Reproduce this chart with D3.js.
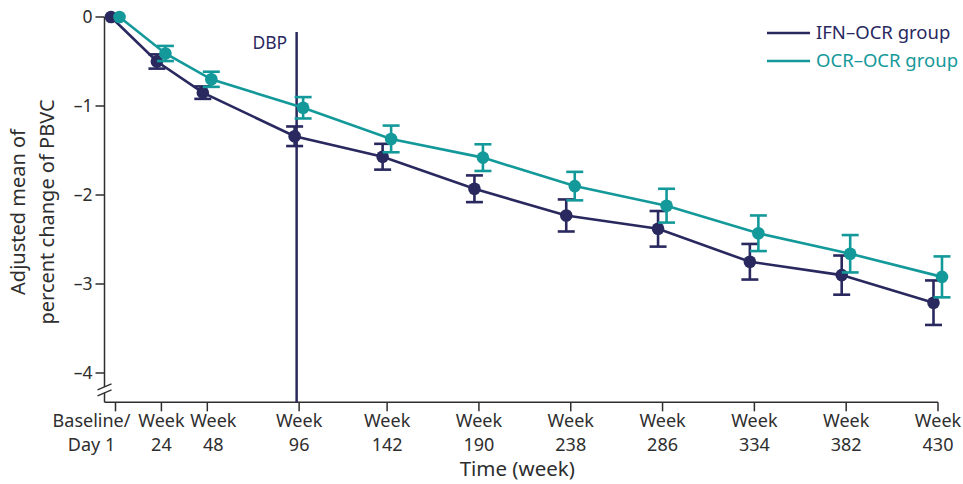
<!DOCTYPE html>
<html>
<head>
<meta charset="utf-8">
<script src="https://cdn.jsdelivr.net/npm/d3@7"></script>
<style>
  body { margin: 0; background: #fff; }
  svg { display: block; font-family: "Noto Sans", "Open Sans", sans-serif; }
</style>
</head>
<body>
<div id="app"></div>
<script>
// data
var weeks = [0, 24, 48, 96, 142, 190, 238, 286, 334, 382, 430];
var tickTop = ['Baseline/', 'Week', 'Week', 'Week', 'Week', 'Week', 'Week', 'Week', 'Week', 'Week', 'Week'];
var tickBottom = ['Day 1', '24', '48', '96', '142', '190', '238', '286', '334', '382', '430'];
var yTicks = [0, -1, -2, -3, -4];

var ifnMean = [0, -0.50, -0.85, -1.34, -1.57, -1.93, -2.23, -2.38, -2.75, -2.90, -3.21];
var ifnErr  = [0, 0.08, 0.07, 0.11, 0.145, 0.15, 0.18, 0.20, 0.20, 0.22, 0.25];
var ocrMean = [0, -0.41, -0.70, -1.02, -1.37, -1.58, -1.90, -2.12, -2.43, -2.66, -2.92];
var ocrErr  = [0, 0.085, 0.085, 0.12, 0.15, 0.15, 0.16, 0.19, 0.20, 0.21, 0.23];
var dbpWeek = 96;

var navy = '#29285f', teal = '#14999a', ink = '#2e2e2e';

var width = 963, height = 484;
var svg = d3.select('#app').append('svg').attr('width', width).attr('height', height);

var x = d3.scaleLinear().domain([0, 430]).range([115.5, 938]);
var y = d3.scaleLinear().domain([0, -4]).range([17, 373]);
var yBottom = -4.33;
var axisX = 104.5;

// y axis
var gy = svg.append('g');
gy.append('line').attr('x1', axisX).attr('x2', axisX).attr('y1', y(0)).attr('y2', y(yBottom))
  .attr('stroke', ink).attr('stroke-width', 1.5);
gy.selectAll('.yt').data(yTicks).enter().append('line')
  .attr('x1', axisX - 9).attr('x2', axisX).attr('y1', function(d) { return y(d); }).attr('y2', function(d) { return y(d); })
  .attr('stroke', ink).attr('stroke-width', 1.5);
gy.selectAll('.yl').data(yTicks).enter().append('text')
  .attr('x', axisX - 12).attr('y', function(d) { return y(d); }).attr('dy', '0.35em')
  .attr('text-anchor', 'end').attr('font-size', 17.5).attr('fill', ink)
  .text(function(d) { return d === 0 ? '0' : '\u2013' + Math.abs(d); });

// axis break
var by = y(-4.19);
gy.append('rect').attr('x', axisX - 3).attr('y', by - 3).attr('width', 6).attr('height', 6).attr('fill', '#fff');
[-3, 3].forEach(function(o) {
  gy.append('line').attr('x1', axisX - 7).attr('x2', axisX + 7)
    .attr('y1', by + o + 3).attr('y2', by + o - 3).attr('stroke', ink).attr('stroke-width', 1.3);
});

// x axis
var gx = svg.append('g');
var xy = y(yBottom);
var labelShift = function(i) { return i === 0 ? -24 : (i === 2 ? 6 : 0); };
gx.append('line').attr('x1', axisX).attr('x2', x(430)).attr('y1', xy).attr('y2', xy)
  .attr('stroke', ink).attr('stroke-width', 1.5);
gx.selectAll('.xt').data(weeks).enter().append('line')
  .attr('x1', function(d) { return x(d); }).attr('x2', function(d) { return x(d); })
  .attr('y1', xy).attr('y2', xy + 9).attr('stroke', ink).attr('stroke-width', 1.5);
var xl = gx.selectAll('.xl').data(weeks).enter().append('text')
  .attr('text-anchor', 'middle').attr('font-size', 18).attr('fill', ink)
  .attr('transform', function(d, i) { return 'translate(' + (x(d) + labelShift(i)) + ',' + (xy + 25) + ')'; });
xl.append('tspan').attr('x', 0).attr('y', 0).text(function(d, i) { return tickTop[i]; });
xl.append('tspan').attr('x', 0).attr('y', 24).text(function(d, i) { return tickBottom[i]; });

svg.append('text').attr('x', (axisX + x(430)) / 2 - 4).attr('y', 476).attr('text-anchor', 'middle')
  .attr('font-size', 20.5).attr('fill', ink).text('Time (week)');

svg.append('text').attr('text-anchor', 'middle').attr('font-size', 20).attr('fill', ink)
  .attr('transform', 'translate(25,212) rotate(-90)')
  .selectAll('tspan').data(['Adjusted mean of', 'percent change of PBVC']).enter().append('tspan')
  .attr('x', 0).attr('y', function(d, i) { return i * 29; }).text(function(d) { return d; });

// DBP line
svg.append('line').attr('x1', x(dbpWeek) - 2.5).attr('x2', x(dbpWeek) - 2.5).attr('y1', 32).attr('y2', xy)
  .attr('stroke', navy).attr('stroke-width', 2.5);
svg.append('text').attr('x', x(dbpWeek) - 12).attr('y', 49).attr('text-anchor', 'end')
  .attr('font-size', 17.5).attr('fill', navy).text('DBP');

// series
var series = [
  { name: 'IFN\u2013OCR group', color: navy, mean: ifnMean, err: ifnErr, dodge: -4.5 },
  { name: 'OCR\u2013OCR group', color: teal, mean: ocrMean, err: ocrErr, dodge: 4 }
];

series.forEach(function(s) {
  var pts = weeks.map(function(w, i) { return { w: w, m: s.mean[i], e: s.err[i] }; });
  var px = function(d) { return x(d.w) + s.dodge; };
  var g = svg.append('g');
  g.append('path').datum(pts)
    .attr('d', d3.line().x(px).y(function(d) { return y(d.m); }))
    .attr('fill', 'none').attr('stroke', s.color).attr('stroke-width', 2.6);
  var eb = g.selectAll('.eb').data(pts.filter(function(d) { return d.e > 0; })).enter().append('g')
    .attr('stroke', s.color).attr('stroke-width', 2.6);
  eb.append('line').attr('x1', px).attr('x2', px)
    .attr('y1', function(d) { return y(d.m + d.e); }).attr('y2', function(d) { return y(d.m - d.e); });
  [1, -1].forEach(function(sg) {
    eb.append('line').attr('x1', function(d) { return px(d) - 8.5; }).attr('x2', function(d) { return px(d) + 8.5; })
      .attr('y1', function(d) { return y(d.m + sg * d.e); }).attr('y2', function(d) { return y(d.m + sg * d.e); });
  });
  g.selectAll('circle').data(pts).enter().append('circle')
    .attr('cx', px).attr('cy', function(d) { return y(d.m); }).attr('r', 6.3).attr('fill', s.color);
});

// legend
var lg = svg.append('g');
series.forEach(function(s, i) {
  var ly = 33 + i * 28;
  lg.append('line').attr('x1', 767).attr('x2', 810).attr('y1', ly).attr('y2', ly)
    .attr('stroke', s.color).attr('stroke-width', 2.6);
  lg.append('text').attr('x', 816).attr('y', ly).attr('dy', '0.35em').attr('font-size', 18.5)
    .attr('fill', s.color).text(s.name);
});
</script>
</body>
</html>
